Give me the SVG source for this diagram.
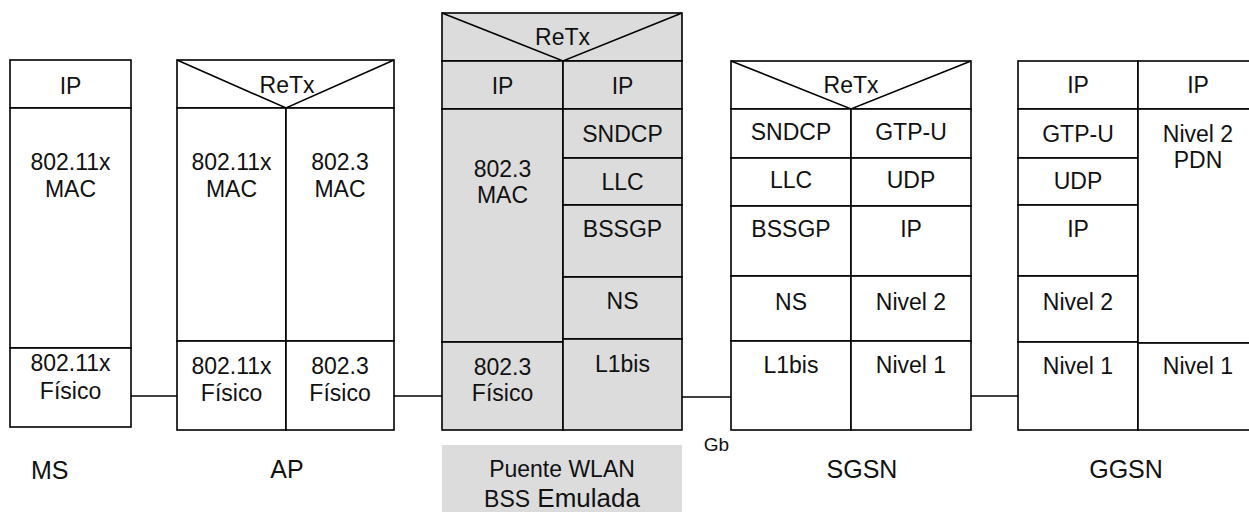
<svg xmlns="http://www.w3.org/2000/svg" width="1249" height="512" viewBox="0 0 1249 512">
<style>
.c{fill:#fff;stroke:#000;stroke-width:1.6}
.g{fill:#dcdcdc;stroke:#000;stroke-width:1.6}
.l{stroke:#000;stroke-width:1.6;fill:none}
text{font-family:"Liberation Sans",Arial,sans-serif;font-size:23px;fill:#111;text-anchor:middle}
.lb{font-size:25px}
</style>
<rect width="1249" height="512" fill="#fff"/>
<g id="connectors">
<line class="l" x1="131" y1="396" x2="177" y2="396"/>
<line class="l" x1="394" y1="396" x2="442" y2="396"/>
<line class="l" x1="682" y1="397" x2="731" y2="397"/>
<line class="l" x1="971" y1="396" x2="1018" y2="396"/>
<text x="716.5" y="451" style="font-size:19px">Gb</text>
</g>
<g id="MS">
<rect class="c" x="10" y="60" width="121" height="48"/>
<rect class="c" x="10" y="108" width="121" height="240"/>
<rect class="c" x="10" y="348" width="121" height="79"/>
<text x="70.5" y="94">IP</text>
<text x="70.5" y="170">802.11x</text>
<text x="70.5" y="197">MAC</text>
<text x="70.5" y="371">802.11x</text>
<text x="70.5" y="399">Físico</text>
<text class="lb" x="31" y="479" style="text-anchor:start">MS</text>
</g>
<g id="AP">
<rect class="c" x="177" y="60" width="217" height="48"/>
<polyline class="l" points="177,60 286,108 394,60"/>
<rect class="c" x="177" y="108" width="109" height="233"/>
<rect class="c" x="286" y="108" width="108" height="233"/>
<rect class="c" x="177" y="341" width="109" height="89"/>
<rect class="c" x="286" y="341" width="108" height="89"/>
<text x="287" y="93">ReTx</text>
<text x="231.5" y="170">802.11x</text>
<text x="231.5" y="197">MAC</text>
<text x="340" y="170">802.3</text>
<text x="340" y="197">MAC</text>
<text x="231.5" y="374">802.11x</text>
<text x="231.5" y="401">Físico</text>
<text x="340" y="374">802.3</text>
<text x="340" y="401">Físico</text>
<text class="lb" x="287" y="478">AP</text>
</g>
<g id="Puente">
<rect class="g" x="442" y="13" width="240" height="48"/>
<polyline class="l" points="442,13 563,61 682,13"/>
<rect class="g" x="442" y="61" width="121" height="48"/>
<rect class="g" x="563" y="61" width="119" height="48"/>
<rect class="g" x="442" y="109" width="121" height="233"/>
<rect class="g" x="442" y="342" width="121" height="88"/>
<rect class="g" x="563" y="109" width="119" height="49"/>
<rect class="g" x="563" y="158" width="119" height="47"/>
<rect class="g" x="563" y="205" width="119" height="72"/>
<rect class="g" x="563" y="277" width="119" height="62"/>
<rect class="g" x="563" y="339" width="119" height="91"/>
<text x="562.5" y="45">ReTx</text>
<text x="502.5" y="94">IP</text>
<text x="622.5" y="94">IP</text>
<text x="502.5" y="177">802.3</text>
<text x="502.5" y="203">MAC</text>
<text x="622.5" y="142">SNDCP</text>
<text x="622.5" y="190">LLC</text>
<text x="622.5" y="237">BSSGP</text>
<text x="622.5" y="309">NS</text>
<text x="622.5" y="372">L1bis</text>
<text x="502.5" y="375">802.3</text>
<text x="502.5" y="401">Físico</text>
<rect x="442" y="445" width="240" height="70" fill="#dcdcdc"/>
<text x="562" y="477">Puente WLAN</text>
<text x="562" y="507"><tspan>BSS</tspan><tspan style="font-size:26px"> Emulada</tspan></text>
</g>
<g id="SGSN">
<rect class="c" x="731" y="61" width="240" height="48"/>
<polyline class="l" points="731,61 851,109 971,61"/>
<rect class="c" x="731" y="109" width="120" height="49"/>
<rect class="c" x="851" y="109" width="120" height="49"/>
<rect class="c" x="731" y="158" width="120" height="48"/>
<rect class="c" x="851" y="158" width="120" height="48"/>
<rect class="c" x="731" y="206" width="120" height="70"/>
<rect class="c" x="851" y="206" width="120" height="70"/>
<rect class="c" x="731" y="276" width="120" height="65"/>
<rect class="c" x="851" y="276" width="120" height="65"/>
<rect class="c" x="731" y="341" width="120" height="89"/>
<rect class="c" x="851" y="341" width="120" height="89"/>
<text x="851" y="93">ReTx</text>
<text x="791" y="140">SNDCP</text>
<text x="911" y="140">GTP-U</text>
<text x="791" y="188">LLC</text>
<text x="911" y="188">UDP</text>
<text x="791" y="237">BSSGP</text>
<text x="911" y="237">IP</text>
<text x="791" y="310">NS</text>
<text x="911" y="310">Nivel 2</text>
<text x="791" y="373">L1bis</text>
<text x="911" y="373">Nivel 1</text>
<text class="lb" x="862" y="478">SGSN</text>
</g>
<g id="GGSN">
<rect class="c" x="1018" y="61" width="120" height="48"/>
<rect class="c" x="1138" y="61" width="122" height="48"/>
<rect class="c" x="1018" y="109" width="120" height="49"/>
<rect class="c" x="1018" y="158" width="120" height="47"/>
<rect class="c" x="1018" y="205" width="120" height="71"/>
<rect class="c" x="1018" y="276" width="120" height="66"/>
<rect class="c" x="1018" y="342" width="120" height="88"/>
<rect class="c" x="1138" y="109" width="122" height="234"/>
<rect class="c" x="1138" y="343" width="122" height="87"/>
<text x="1078" y="93">IP</text>
<text x="1198" y="93">IP</text>
<text x="1078" y="142">GTP-U</text>
<text x="1198" y="142">Nivel 2</text>
<text x="1198" y="168">PDN</text>
<text x="1078" y="189">UDP</text>
<text x="1078" y="237">IP</text>
<text x="1078" y="310">Nivel 2</text>
<text x="1078" y="374">Nivel 1</text>
<text x="1198" y="374">Nivel 1</text>
<text class="lb" x="1126" y="478">GGSN</text>
</g>
</svg>
